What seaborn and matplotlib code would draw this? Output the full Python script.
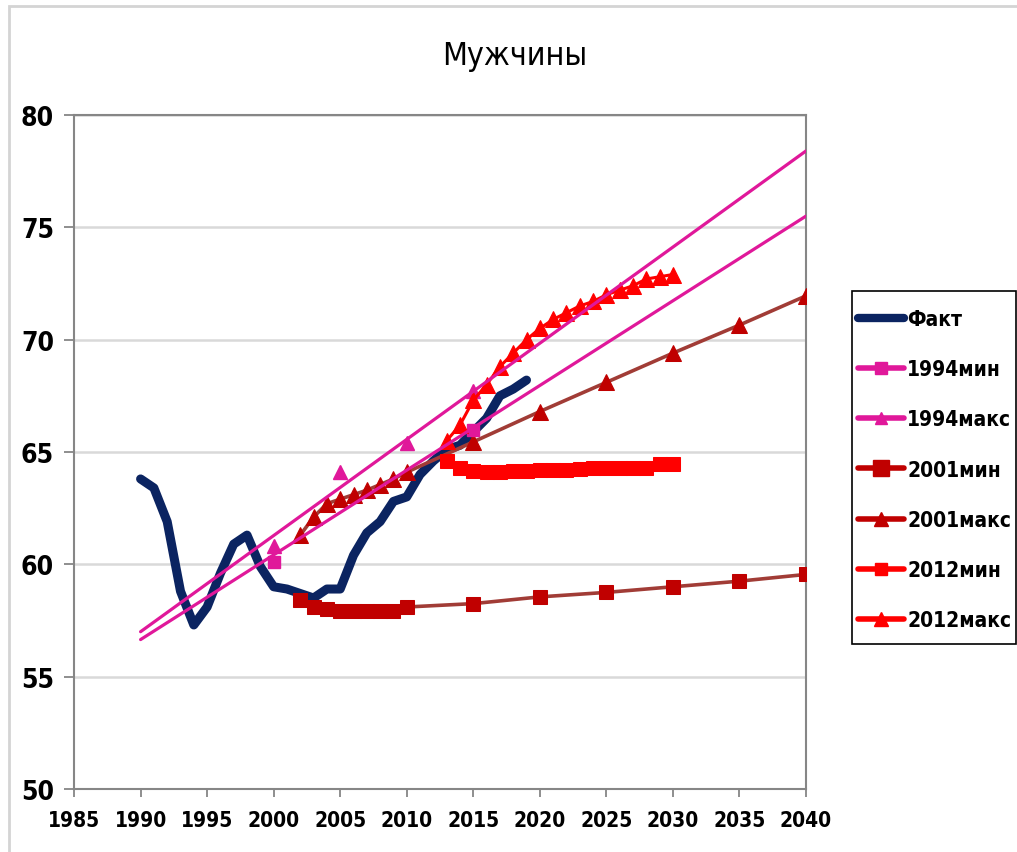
"""
Male life expectancy in Russia: actual values vs. forecast scenarios (1994, 2001, 2012).
"""

import matplotlib
matplotlib.use("Agg")
import matplotlib.pyplot as plt
from matplotlib.lines import Line2D
from matplotlib.patches import Rectangle
import seaborn as sns

sns.set_theme(style="white")
plt.rcParams["font.family"] = ["DejaVu Sans"]
plt.rcParams["font.stretch"] = "condensed"
plt.rcParams["text.color"] = "black"
plt.rcParams["xtick.labelcolor"] = "black"
plt.rcParams["ytick.labelcolor"] = "black"

TITLE = "Мужчины"

# Fact
fact_years = list(range(1990, 2020))
fact_values = [63.8, 63.4, 61.9, 58.8, 57.3, 58.1, 59.6, 60.9, 61.3, 59.9,
               59.0, 58.9, 58.7, 58.5, 58.9, 58.9, 60.4, 61.4, 61.9, 62.8,
               63.0, 64.0, 64.6, 65.1, 65.3, 65.9, 66.5, 67.5, 67.8, 68.2]

# 1994 forecast: points and linear trend lines
f1994_min_years = [2000, 2015]
f1994_min_values = [60.1, 66.0]
f1994_max_years = [2000, 2005, 2010, 2015]
f1994_max_values = [60.8, 64.1, 65.4, 67.7]
trend_years = [1990, 2040]
trend_1994_max = [57.0, 78.4]
trend_1994_min = [56.65, 75.5]

# 2001 forecast
f2001_years = [2002, 2003, 2004, 2005, 2006, 2007, 2008, 2009, 2010,
               2015, 2020, 2025, 2030, 2035, 2040]
f2001_min = [58.4, 58.1, 58.0, 57.9, 57.9, 57.9, 57.9, 57.9, 58.1,
             58.25, 58.55, 58.75, 59.0, 59.25, 59.55]
f2001_max = [61.3, 62.1, 62.7, 62.9, 63.1, 63.3, 63.55, 63.8, 64.1,
             65.45, 66.8, 68.1, 69.4, 70.65, 71.95]

# 2012 forecast
f2012_years = list(range(2013, 2031))
f2012_min = [64.6, 64.3, 64.15, 64.1, 64.1, 64.15, 64.15, 64.2, 64.2,
             64.2, 64.25, 64.3, 64.3, 64.3, 64.3, 64.3, 64.45, 64.45]
f2012_max = [65.5, 66.2, 67.3, 68.0, 68.8, 69.4, 70.0, 70.5, 70.9,
             71.2, 71.5, 71.7, 72.0, 72.2, 72.4, 72.7, 72.8, 72.9]

NAVY = "#0B2461"
PINK = "#E0189A"
DARKRED = "#C00000"
BROWN = "#A13C36"
RED = "#FF0000"

fig = plt.figure(figsize=(10.17, 8.53), dpi=100)
ax = fig.add_axes([0.0728, 0.0739, 0.7197, 0.7901])

sns.lineplot(x=fact_years, y=fact_values, ax=ax, color=NAVY, lw=6.5,
             solid_capstyle="round", solid_joinstyle="round", zorder=2)

sns.lineplot(x=f2001_years, y=f2001_min, ax=ax, color=BROWN, lw=2.6,
             marker="s", markersize=10, markerfacecolor=DARKRED,
             markeredgecolor=DARKRED, zorder=3)
sns.lineplot(x=f2001_years, y=f2001_max, ax=ax, color=BROWN, lw=2.6,
             marker="^", markersize=11, markerfacecolor=DARKRED,
             markeredgecolor=DARKRED, zorder=3)

sns.lineplot(x=f2012_years, y=f2012_min, ax=ax, color=RED, lw=2.2,
             marker="s", markersize=10, markeredgecolor=RED, zorder=4)
sns.lineplot(x=f2012_years, y=f2012_max, ax=ax, color=RED, lw=2.2,
             marker="^", markersize=11, markeredgecolor=RED, zorder=4)

ax.plot(f1994_min_years, f1994_min_values, ls="none", marker="s",
        markersize=9, color=PINK, zorder=3)
ax.plot(f1994_max_years, f1994_max_values, ls="none", marker="^",
        markersize=10, color=PINK, zorder=3)
ax.plot(trend_years, trend_1994_max, color=PINK, lw=2.3, zorder=5)
ax.plot(trend_years, trend_1994_min, color=PINK, lw=2.3, zorder=5)

ax.set_xlim(1985, 2040)
ax.set_ylim(50, 80)
ax.set_xticks(range(1985, 2041, 5))
ax.set_yticks(range(50, 81, 5))
ax.set_xlabel("")
ax.set_ylabel("")
ax.grid(axis="y", color="#D9D9D9", lw=1.8)
ax.set_axisbelow(True)
for side in ["left", "right", "top", "bottom"]:
    ax.spines[side].set_color("#868686")
    ax.spines[side].set_linewidth(1.5)
ax.tick_params(axis="y", left=True, length=7.5, width=1.3, color="#868686",
               labelsize=19, pad=7)
ax.tick_params(axis="x", bottom=True, length=6, width=1.3, color="#868686",
               labelsize=15, pad=9)
for lab in ax.get_xticklabels() + ax.get_yticklabels():
    lab.set_fontweight("bold")

fig.text(0.506, 0.934, TITLE, ha="center", va="center", fontsize=23)

handles = [
    Line2D([], [], color=NAVY, lw=6, solid_capstyle="round"),
    Line2D([], [], color=PINK, lw=4, marker="s", markersize=9),
    Line2D([], [], color=PINK, lw=4, marker="^", markersize=8),
    Line2D([], [], color=DARKRED, lw=4, marker="s", markersize=11),
    Line2D([], [], color=DARKRED, lw=4, marker="^", markersize=10),
    Line2D([], [], color=RED, lw=4, marker="s", markersize=9),
    Line2D([], [], color=RED, lw=4, marker="^", markersize=10),
]
labels = ["Факт", "1994мин", "1994макс", "2001мин", "2001макс", "2012мин", "2012макс"]
fig.legend(handles, labels, loc="upper left", bbox_to_anchor=(0.8437, 0.6366),
           frameon=False, prop={"weight": "bold", "size": 15},
           handlelength=2.2, handletextpad=0.15, labelspacing=1.45,
           borderpad=0, borderaxespad=0)

# legend box and chart area border
fig.patches.append(Rectangle((852 / 1017, 1 - 645 / 853), 164 / 1017, 353 / 853,
                             transform=fig.transFigure, fill=False,
                             edgecolor="black", lw=1.2))
fig.patches.append(Rectangle((0.009, -0.05), 1.2, 1.042, transform=fig.transFigure,
                             fill=False, edgecolor="#D4D4D4", lw=2))

fig.savefig("out.png", dpi=100)
